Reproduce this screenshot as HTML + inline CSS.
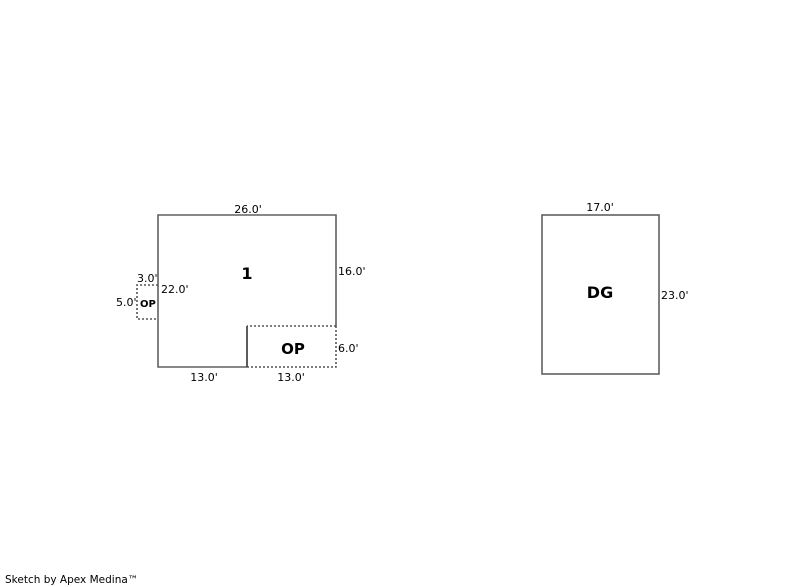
<!DOCTYPE html>
<html><head><meta charset="utf-8"><style>
html,body{margin:0;padding:0;background:#fff;}
svg{display:block;}
text{font-family:"DejaVu Sans","Liberation Sans",sans-serif;font-size:11px;fill:#000;}
.b{font-weight:bold;}
</style></head><body>
<svg width="800" height="587" viewBox="0 0 800 587" xmlns="http://www.w3.org/2000/svg">
<g stroke="#606060" stroke-width="1.6" fill="none">
<polyline points="247,367 158,367 158,215 336,215 336,326"/>
<line x1="247" y1="326" x2="247" y2="367" stroke="#333"/>
<g stroke-dasharray="2,2" stroke="#555">
<polyline points="336,326 247,326"/>
<polyline points="247,367 336,367 336,326"/>
<polyline points="158,285 137,285 137,319 158,319"/>
</g>
<rect x="542" y="215" width="117" height="159"/>
</g>
<text x="248" y="213" text-anchor="middle">26.0'</text>
<text x="338" y="275">16.0'</text>
<text x="338" y="352">6.0'</text>
<text x="204" y="381" text-anchor="middle">13.0'</text>
<text x="291" y="381" text-anchor="middle">13.0'</text>
<text x="137" y="282">3.0'</text>
<text x="161" y="293">22.0'</text>
<text x="116" y="306">5.0'</text>
<text x="140" y="307" class="b" style="font-size:10px">OP</text>
<text x="247" y="279" class="b" text-anchor="middle" style="font-size:16px">1</text>
<text x="293" y="354" class="b" text-anchor="middle" style="font-size:15px">OP</text>
<text x="600" y="211" text-anchor="middle">17.0'</text>
<text x="661" y="299">23.0'</text>
<text x="600" y="298" class="b" text-anchor="middle" style="font-size:16px">DG</text>
<text x="5" y="583" style="font-size:10.5px">Sketch by Apex Medina™</text>
</svg>
</body></html>
